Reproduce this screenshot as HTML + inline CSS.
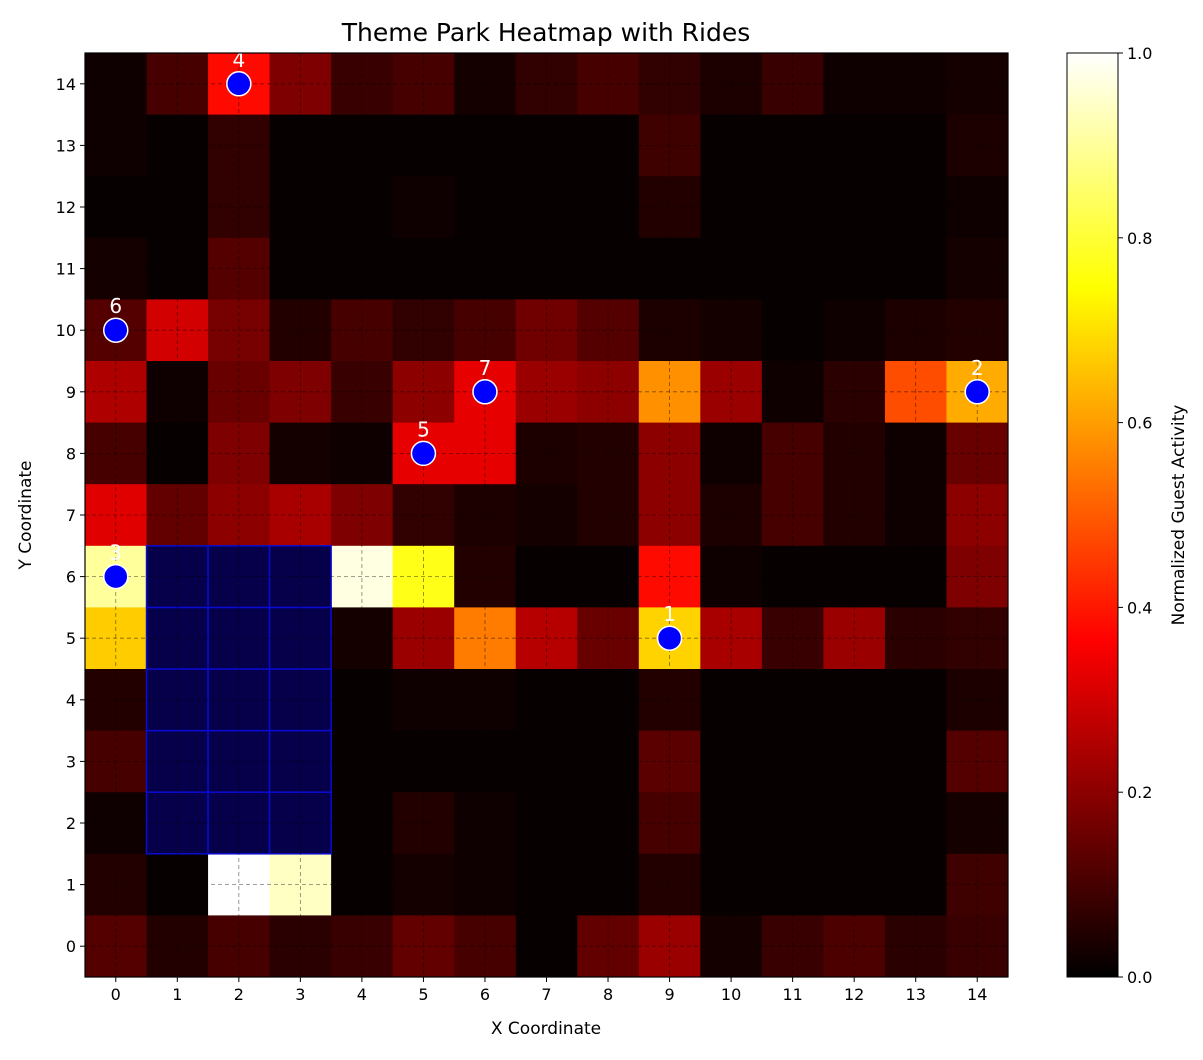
<!DOCTYPE html>
<html><head><meta charset="utf-8"><style>
body{margin:0;background:#fff;font-family:"Liberation Sans","DejaVu Sans",sans-serif}
svg text{font-family:"DejaVu Sans","Liberation Sans",sans-serif}
</style></head><body>
<svg id="s" width="1203" height="1055" xmlns="http://www.w3.org/2000/svg">
<defs><linearGradient id="cb" x1="0" y1="1" x2="0" y2="0">
<stop offset="0" stop-color="#000"/><stop offset="0.365" stop-color="#f00"/><stop offset="0.746" stop-color="#ff0"/><stop offset="1" stop-color="#fff"/></linearGradient></defs>
<text x="546" y="41" font-size="25" text-anchor="middle">Theme Park Heatmap with Rides</text>
<g id="cells"></g><g id="grid"></g><g id="rides"></g><g id="axes"></g>
<rect x="1067" y="53" width="51" height="924" fill="url(#cb)" stroke="#000" stroke-width="1"/>
<g id="cbt"></g>
<text transform="translate(1184,515) rotate(-90)" font-size="17" text-anchor="middle">Normalized Guest Activity</text>
<text x="546" y="1034" font-size="17" text-anchor="middle">X Coordinate</text>
<text transform="translate(31,515) rotate(-90)" font-size="17" text-anchor="middle">Y Coordinate</text>
</svg>
<script>
// rows from y=14 (top) to y=0
const values=[
[0.02,0.1,0.38,0.18,0.08,0.1,0.03,0.07,0.1,0.07,0.04,0.08,0.02,0.02,0.03],
[0.02,0.01,0.07,0.01,0.01,0.01,0.01,0.01,0.01,0.09,0.01,0.01,0.01,0.01,0.04],
[0.01,0.01,0.07,0.01,0.01,0.02,0.01,0.01,0.01,0.05,0.01,0.01,0.01,0.01,0.02],
[0.03,0.01,0.12,0.01,0.01,0.01,0.01,0.01,0.01,0.01,0.01,0.01,0.01,0.01,0.03],
[0.12,0.3,0.17,0.05,0.1,0.07,0.1,0.16,0.12,0.04,0.03,0.01,0.02,0.04,0.05],
[0.25,0.02,0.15,0.18,0.08,0.2,0.33,0.22,0.2,0.58,0.22,0.02,0.06,0.48,0.62],
[0.1,0.01,0.18,0.03,0.02,0.33,0.33,0.04,0.05,0.2,0.02,0.1,0.05,0.02,0.15],
[0.32,0.14,0.2,0.24,0.18,0.07,0.04,0.03,0.05,0.2,0.04,0.1,0.05,0.02,0.2],
[0.9,0.02,0.02,0.02,0.97,0.77,0.05,0.01,0.01,0.38,0.02,0.01,0.01,0.01,0.18],
[0.67,0.02,0.02,0.02,0.03,0.22,0.55,0.26,0.15,0.68,0.24,0.08,0.22,0.06,0.07],
[0.05,0.02,0.02,0.02,0.01,0.02,0.02,0.01,0.01,0.05,0.01,0.01,0.01,0.01,0.04],
[0.1,0.02,0.02,0.02,0.01,0.01,0.01,0.01,0.01,0.13,0.01,0.01,0.01,0.01,0.12],
[0.02,0.02,0.02,0.02,0.01,0.05,0.02,0.01,0.01,0.1,0.01,0.01,0.01,0.01,0.03],
[0.05,0.01,1.0,0.94,0.01,0.03,0.02,0.01,0.01,0.05,0.01,0.01,0.01,0.01,0.09],
[0.12,0.05,0.1,0.06,0.08,0.14,0.1,0.01,0.14,0.22,0.03,0.08,0.11,0.06,0.08]];
const blockedX=[1,2,3];
const blockedY=[2,3,4,5,6];
const rideX=[9,14,0,2,5,0,6];
const rideY=[5,9,6,14,8,10,9];
const rideLabels=["1","2","3","4","5","6","7"];
const ticks=[0,1,2,3,4,5,6,7,8,9,10,11,12,13,14];
const cbTicks=[0,0.2,0.4,0.6,0.8,1.0];
const NS="http://www.w3.org/2000/svg";
const L=85,R=1008,T=53,B=977,cw=(R-L)/15,ch=(B-T)/15;
const xs=v=>L+(v+0.5)*cw, ys=v=>B-(v+0.5)*ch;
function hot(v){const c=x=>Math.round(255*Math.max(0,Math.min(1,x)));return `rgb(${c(v/0.365)},${c((v-0.365)/0.381)},${c((v-0.746)/0.254)})`;}
function mk(t,a,p){const e=document.createElementNS(NS,t);for(const k in a)e.setAttribute(k,a[k]);p.appendChild(e);return e;}
const cells=document.getElementById('cells');
values.forEach((row,ri)=>{const y=14-ri;row.forEach((v,x)=>{
 const r=mk('rect',{x:xs(x)-cw/2,y:ys(y)-ch/2,width:cw+0.5,height:ch+0.5,fill:hot(v)},cells);
 
 });});
blockedX.forEach(x=>blockedY.forEach(y=>{
 const r=mk('rect',{x:xs(x)-cw/2,y:ys(y)-ch/2,width:cw,height:ch,fill:'#06004b',stroke:'#0a0ad0','stroke-width':1.5},cells);
 
 }));
const grid=document.getElementById('grid');
ticks.forEach(t=>{
 const a=mk('line',{x1:xs(t),x2:xs(t),y1:T,y2:B,stroke:'#000','stroke-opacity':0.5,'stroke-dasharray':'4,3','stroke-width':0.8},grid);
 
 const b=mk('line',{x1:L,x2:R,y1:ys(t),y2:ys(t),stroke:'#000','stroke-opacity':0.5,'stroke-dasharray':'4,3','stroke-width':0.8},grid);
 });
const rides=document.getElementById('rides');
rideX.forEach((x,i)=>{
 const c=mk('circle',{cx:xs(x),cy:ys(rideY[i]),r:12,fill:'#0000ff',stroke:'#fff','stroke-width':1.5},rides);
 
 const t=mk('text',{x:xs(x),y:ys(rideY[i])-17,'font-size':20,fill:'#fff','text-anchor':'middle'},rides);
 t.textContent=rideLabels[i];
 });
const ax=document.getElementById('axes');
const fr=mk('rect',{x:L,y:T,width:R-L,height:B-T,fill:'none',stroke:'#000','stroke-width':1.2},ax);

ticks.forEach(t=>{
 mk('line',{x1:xs(t),x2:xs(t),y1:B,y2:B+5,stroke:'#000'},ax);
 const a=mk('text',{x:xs(t),y:B+23,'font-size':16,'text-anchor':'middle'},ax);a.textContent=t;
 
 mk('line',{x1:L-5,x2:L,y1:ys(t),y2:ys(t),stroke:'#000'},ax);
 const b=mk('text',{x:L-9,y:ys(t)+6,'font-size':16,'text-anchor':'end'},ax);b.textContent=t;
 });
const cbt=document.getElementById('cbt');
cbTicks.forEach(v=>{const y=B-v*(B-T);
 mk('line',{x1:1118,x2:1123,y1:y,y2:y,stroke:'#000'},cbt);
 const t=mk('text',{x:1127,y:y+6,'font-size':16},cbt);t.textContent=v.toFixed(1);
 });
</script>
</body></html>
